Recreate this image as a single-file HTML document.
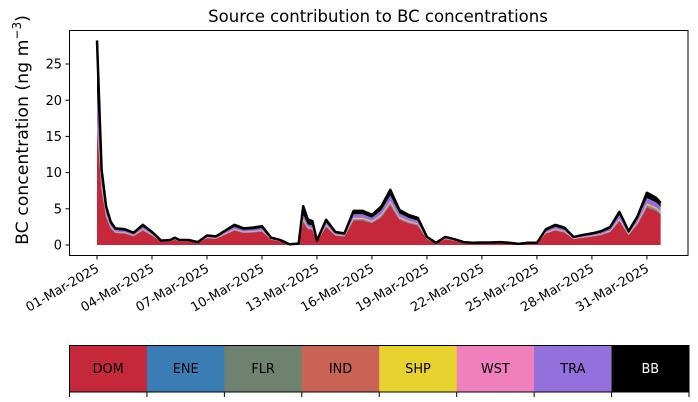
<!DOCTYPE html>
<html><head><meta charset="utf-8">
<style>
html,body{margin:0;padding:0;background:#fff;}
svg{display:block;font-family:"DejaVu Sans","Liberation Sans",sans-serif;}
</style></head>
<body>
<svg id="chart" width="698" height="402" viewBox="0 0 698 402">
  <text x="378" y="22" text-anchor="middle" font-size="16.5">Source contribution to BC concentrations</text>
  <text transform="translate(28,130) rotate(-90)" text-anchor="middle" font-size="17.3">BC concentration (ng m<tspan baseline-shift="super" font-size="12">−3</tspan>)</text>
  <g id="areas"></g>
  <g id="yaxis"></g>
  <g id="xaxis"></g>
  <rect x="69.5" y="30.5" width="618.5" height="225" fill="none" stroke="#000" stroke-width="1"/>
  <g id="legend"></g>
</svg>
<script>
const days = [0,0.25,0.5,0.75,1,1.5,2,2.5,3,3.5,4,4.25,4.5,5,5.5,6,6.5,7,7.5,8,8.5,9,9.5,10,10.5,11,11.25,11.5,11.75,12,12.5,13,13.5,14,14.5,15,15.5,16,16.5,17,17.5,18,18.5,19,19.5,20,20.5,21,21.5,22,22.5,23,23.5,24,24.5,25,25.5,26,26.5,27,27.5,28,28.5,29,29.5,30,30.5,30.75];
const DOM = [16,7.5,3.8,2.3,1.66,1.58,1.22,2.0,1.3,0.43,0.5,0.72,0.5,0.5,0.29,0.94,0.86,1.44,2.0,1.66,1.73,1.87,0.72,0.5,0.07,0.14,3.2,2.2,2.1,0.43,2.5,1.3,1.15,3.4,3.4,3.0,3.8,5.5,3.5,3.0,2.7,0.8,0.22,0.8,0.58,0.29,0.22,0.25,0.25,0.29,0.22,0.11,0.22,0.22,1.58,2.0,1.73,0.8,1.0,1.15,1.37,1.8,3.3,1.37,2.9,5.2,4.7,4.2];
const TRA = [4.0,1.04,0.53,0.32,0.23,0.22,0.17,0.28,0.18,0.06,0.07,0.1,0.07,0.07,0.04,0.13,0.12,0.2,0.28,0.23,0.24,0.26,0.1,0.07,0.01,0.02,0.54,0.35,0.33,0.06,0.35,0.18,0.16,0.47,0.47,0.42,0.53,0.76,0.48,0.41,0.37,0.11,0.03,0.11,0.08,0.04,0.03,0.035,0.035,0.04,0.03,0.015,0.03,0.03,0.22,0.28,0.24,0.11,0.14,0.16,0.19,0.25,0.46,0.19,0.4,0.72,0.65,0.58];
const BB = [7.0,1.04,0.53,0.32,0.23,0.22,0.17,0.28,0.18,0.06,0.07,0.1,0.07,0.07,0.04,0.13,0.12,0.2,0.28,0.23,0.24,0.26,0.1,0.07,0.01,0.02,1.2,0.7,0.6,0.06,0.35,0.18,0.16,0.47,0.47,0.42,0.53,0.76,0.48,0.41,0.37,0.11,0.03,0.11,0.08,0.04,0.03,0.035,0.035,0.04,0.03,0.015,0.03,0.03,0.22,0.28,0.24,0.11,0.14,0.16,0.19,0.25,0.46,0.19,0.4,0.72,0.65,0.58];
const MINOR = [0.25,0.17,0.085,0.05,0.037,0.035,0.027,0.045,0.029,0.01,0.011,0.016,0.011,0.011,0.006,0.021,0.019,0.032,0.045,0.037,0.038,0.042,0.016,0.011,0.002,0.003,0.086,0.056,0.053,0.01,0.056,0.029,0.026,0.075,0.075,0.067,0.085,0.12,0.077,0.066,0.059,0.018,0.005,0.018,0.013,0.006,0.005,0.006,0.006,0.006,0.005,0.002,0.005,0.005,0.035,0.045,0.038,0.018,0.022,0.026,0.03,0.04,0.074,0.03,0.064,0.115,0.104,0.093];
const ENE = MINOR.slice(), FLR = MINOR.slice(), IND = MINOR.slice(), SHP = MINOR.slice(), WST = MINOR.slice();
const sourceNames = ["DOM","ENE","FLR","IND","SHP","WST","TRA","BB"];
const sourceSeries = [DOM,ENE,FLR,IND,SHP,WST,TRA,BB];
const sourceColors = ["#c5283a","#3a7db5","#6f8270","#c96455","#e8d22e","#f07fbd","#9370db","#000000"];
const yTicks = [0,5,10,15,20,25];
const xTickDays = [0,3,6,9,12,15,18,21,24,27,30];
const xTickLabels = ["01-Mar-2025","04-Mar-2025","07-Mar-2025","10-Mar-2025","13-Mar-2025","16-Mar-2025","19-Mar-2025","22-Mar-2025","25-Mar-2025","28-Mar-2025","31-Mar-2025"];

const NS = "http://www.w3.org/2000/svg";
const xS = d => 97 + d * 18.33;
const yS = v => 245 - v * 7.24;
function mk(tag, attrs, parent){const e=document.createElementNS(NS,tag);for(const k in attrs)e.setAttribute(k,attrs[k]);parent.appendChild(e);return e;}

const areas = document.getElementById('areas');
let base = days.map(()=>0);
sourceSeries.forEach((s,i)=>{
  const top = base.map((b,j)=>b+s[j]);
  let d = "M" + days.map((t,j)=>xS(t).toFixed(2)+","+yS(top[j]).toFixed(2)).join(" L");
  for(let j=days.length-1;j>=0;j--) d += " L"+xS(days[j]).toFixed(2)+","+yS(base[j]).toFixed(2);
  d += " Z";
  const p = mk('path',{d:d,fill:sourceColors[i],stroke:'none'},areas);
  
  
  base = top;
});
const line = mk('path',{d:"M"+days.map((t,j)=>xS(t).toFixed(2)+","+yS(base[j]).toFixed(2)).join(" L"),fill:'none',stroke:'#000','stroke-width':2.5,'stroke-linejoin':'round'},areas);



const ya = document.getElementById('yaxis');
yTicks.forEach(v=>{
  const y = yS(v);
  const t = mk('line',{x1:65.5,x2:69.5,y1:y,y2:y,stroke:'#000'},ya);
  
  
  const l = mk('text',{x:62,y:y+4.6,'text-anchor':'end','font-size':12.9},ya);
  l.textContent = v;
  
  
});
const xa = document.getElementById('xaxis');
xTickDays.forEach((d,i)=>{
  const x = xS(d);
  const t = mk('line',{x1:x,x2:x,y1:255.5,y2:259.5,stroke:'#000'},xa);
  
  
  const l = mk('text',{transform:`translate(${x+3},${271}) rotate(-30)`,'text-anchor':'end','font-size':12.9},xa);
  l.textContent = xTickLabels[i];
  
  
});

const lg = document.getElementById('legend');
const lx0 = 69.5, lw = 619.5/8;
sourceNames.forEach((n,i)=>{
  const r = mk('rect',{x:lx0+i*lw,y:345.5,width:lw+0.5,height:46.5,fill:sourceColors[i]},lg);
  
  
  const t = mk('text',{x:lx0+i*lw+lw/2,y:373,'text-anchor':'middle','font-size':12.9,fill:n==='BB'?'#fff':'#000'},lg);
  t.textContent = n;
  
  
});
for(let i=0;i<=8;i++){
  const x = lx0+i*lw;
  const tk = mk('line',{x1:x,x2:x,y1:392,y2:397,stroke:'#000'},lg);
  
  
}
const fr = mk('rect',{x:lx0,y:345.5,width:619.5,height:46.5,fill:'none',stroke:'#000'},lg);


</script>
</body></html>
